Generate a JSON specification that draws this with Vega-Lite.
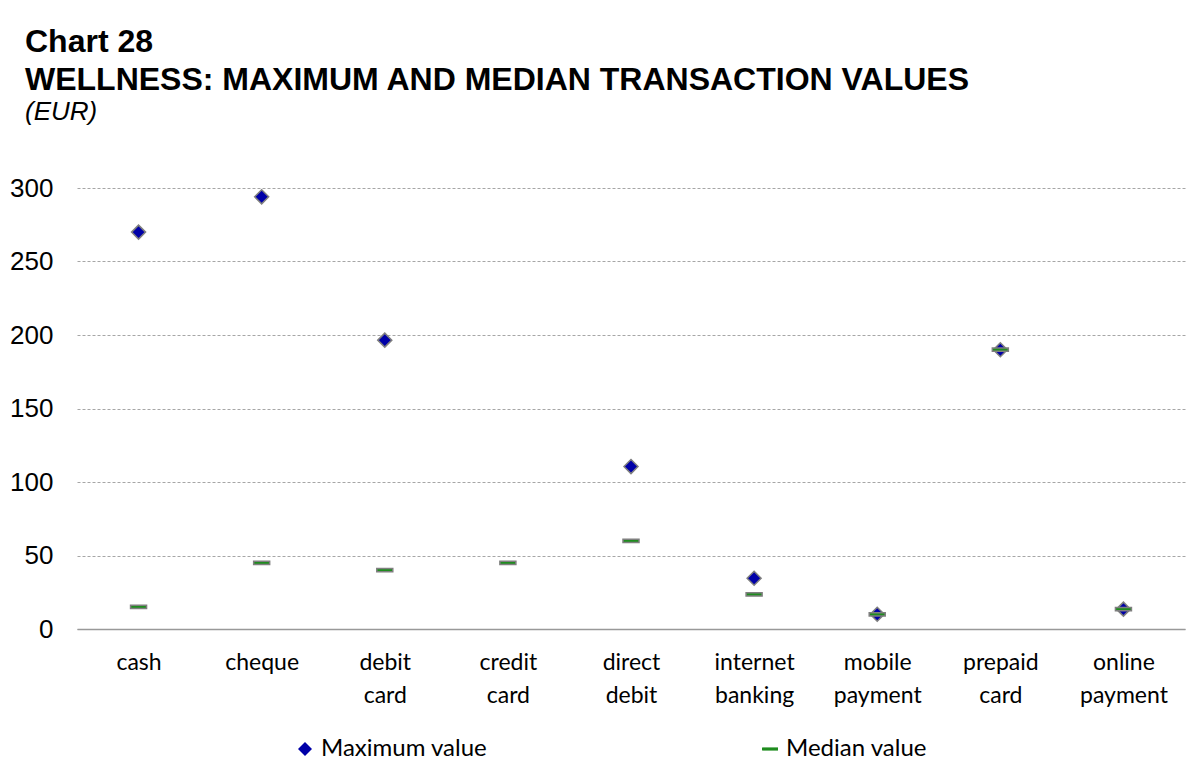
{
  "$schema": "https://vega.github.io/schema/vega-lite/v6.json",
  "autosize": {"type": "none"},
  "width": 1108,
  "height": 441,
  "padding": {"left": 77, "top": 188, "right": 7, "bottom": 149},
  "background": "white",
  "title": {
    "text": ["Chart 28", "WELLNESS: MAXIMUM AND MEDIAN TRANSACTION VALUES"],
    "subtitle": "(EUR)",
    "anchor": "start",
    "frame": "group",
    "dx": -52,
    "offset": 49,
    "font": "Liberation Sans",
    "fontSize": 32,
    "fontWeight": "bold",
    "color": "black",
    "lineHeight": 38,
    "subtitleFont": "Liberation Sans",
    "subtitleFontSize": 26,
    "subtitleFontStyle": "italic",
    "subtitleColor": "black",
    "subtitlePadding": 2
  },
  "data": {
    "values": [
      {"category": "cash", "series": "Maximum value", "value": 270},
      {"category": "cheque", "series": "Maximum value", "value": 294},
      {"category": "debit card", "series": "Maximum value", "value": 196.5},
      {"category": "direct debit", "series": "Maximum value", "value": 110.5},
      {"category": "internet banking", "series": "Maximum value", "value": 34.5},
      {"category": "mobile payment", "series": "Maximum value", "value": 10},
      {"category": "prepaid card", "series": "Maximum value", "value": 190},
      {"category": "online payment", "series": "Maximum value", "value": 13.5},
      {"category": "cash", "series": "Median value", "value": 15},
      {"category": "cheque", "series": "Median value", "value": 45},
      {"category": "debit card", "series": "Median value", "value": 40},
      {"category": "credit card", "series": "Median value", "value": 45},
      {"category": "direct debit", "series": "Median value", "value": 60},
      {"category": "internet banking", "series": "Median value", "value": 23.5},
      {"category": "mobile payment", "series": "Median value", "value": 10},
      {"category": "prepaid card", "series": "Median value", "value": 190},
      {"category": "online payment", "series": "Median value", "value": 13.5}
    ]
  },
  "mark": {"type": "point", "filled": true, "opacity": 1, "strokeWidth": 1.5},
  "encoding": {
    "x": {
      "field": "category",
      "type": "nominal",
      "sort": ["cash", "cheque", "debit card", "credit card", "direct debit", "internet banking", "mobile payment", "prepaid card", "online payment"],
      "scale": {"paddingInner": 0, "paddingOuter": 0},
      "axis": {
        "title": null,
        "labelAngle": 0,
        "labelExpr": "split(datum.label, ' ')",
        "labelFont": "Lato",
        "labelFontSize": 23,
        "labelColor": "black",
        "labelLineHeight": 33,
        "labelPadding": 22,
        "labelBaseline": "top",
        "ticks": false,
        "domain": true,
        "domainColor": "#999999",
        "domainWidth": 1.5,
        "grid": false
      }
    },
    "y": {
      "field": "value",
      "type": "quantitative",
      "scale": {"domain": [0, 300], "nice": false},
      "axis": {
        "title": null,
        "values": [0, 50, 100, 150, 200, 250, 300],
        "labelFont": "Liberation Sans",
        "labelFontSize": 26,
        "labelColor": "black",
        "labelPadding": 24,
        "ticks": false,
        "domain": false,
        "grid": true,
        "gridColor": "#A6A6A6",
        "gridDash": [3, 2],
        "gridWidth": 1
      }
    },
    "color": {
      "field": "series",
      "type": "nominal",
      "scale": {"domain": ["Maximum value", "Median value"], "range": ["#0000A8", "#1E8C1E"]},
      "legend": {
        "title": null,
        "orient": "none",
        "direction": "horizontal",
        "legendX": 216,
        "legendY": 549,
        "columnPadding": 270,
        "labelFont": "Lato",
        "labelFontSize": 24,
        "labelLimit": 400,
        "labelColor": "black",
        "symbolSize": 120,
        "symbolStrokeWidth": 0,
        "labelOffset": 4
      }
    },
    "shape": {
      "field": "series",
      "type": "nominal",
      "scale": {"domain": ["Maximum value", "Median value"], "range": ["diamond", "M-1,-0.2H1V0.2H-1Z"]}
    },
    "size": {
      "field": "series",
      "type": "nominal",
      "scale": {"domain": ["Maximum value", "Median value"], "range": [196, 256]},
      "legend": null
    },
    "stroke": {"value": "#7F7F7F"}
  },
  "config": {
    "view": {"stroke": null}
  }
}
